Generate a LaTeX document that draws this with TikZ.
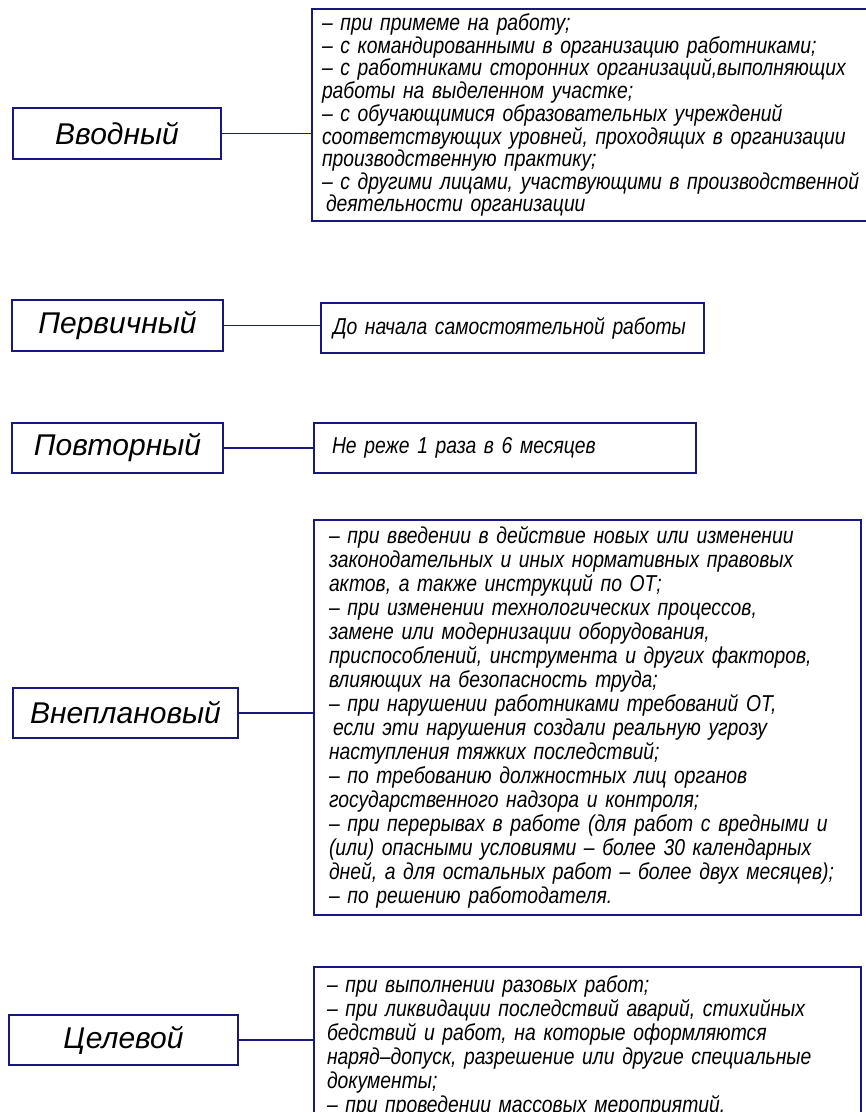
\documentclass[tikz,border=0pt]{standalone}
\usepackage{fontspec}
\setmainfont{Liberation Sans}[FakeStretch=0.84]
\newfontfamily\labelfont{Liberation Sans}
\definecolor{navy}{RGB}{24,24,125}
\begin{document}
\begin{tikzpicture}[x=1pt,y=-1pt,
  lbox/.style={draw=navy, line width=1.7pt, inner sep=0pt, font=\labelfont\fontsize{30}{32}\selectfont\itshape},
  cbox/.style={draw=navy, line width=1.7pt, align=left, inner ysep=0pt, font=\fontsize{23}{24}\selectfont\itshape},
  conn/.style={draw=navy, line width=1.9pt}]
\useasboundingbox (0,0) rectangle (866,1112);
\clip (0,0) rectangle (866,1112);

% left boxes
\node[lbox, minimum width=208, minimum height=51] (vvod) at (117,133.5) {Вводный};
\node[lbox, minimum width=211, minimum height=51] (perv) at (117.5,325.5) {Первичный};
\node[lbox, minimum width=211, minimum height=50] (povt) at (117.5,448) {Повторный};
\node[lbox, minimum width=225, minimum height=50] (vnep) at (125.5,713) {Внеплановый};
\node[lbox, minimum width=229, minimum height=50] (tsel) at (123.5,1040) {Целевой};

% content boxes
\node[cbox, minimum width=600, minimum height=212, text width=580, inner xsep=10,
      font=\fontsize{23}{21.4}\selectfont\itshape] (vvodc) at (612,115) {%
– при примеме на работу;\\
– с командированными в организацию работниками;\\
– с работниками сторонних организаций,выполняющих\\
работы на выделенном участке;\\
– с обучающимися образовательных учреждений\\
соответствующих уровней, проходящих в организации\\
производственную практику;\\
– с другими лицами, участвующими в производственной\\
\hspace*{4pt}деятельности организации};

\node[cbox, minimum width=383, minimum height=50, text width=359, inner xsep=12] (pervc) at (512.5,328) {До начала самостоятельной работы};

\node[cbox, minimum width=382, minimum height=50, text width=346, inner xsep=18] (povtc) at (505,448) {Не реже 1 раза в 6 месяцев};

\node[cbox, minimum width=547, minimum height=395, text width=517, inner xsep=15] (vnepc) at (587.5,717.5) {%
– при введении в действие новых или изменении\\
законодательных и иных нормативных правовых\\
актов, а также инструкций по ОТ;\\
– при изменении технологических процессов,\\
замене или модернизации оборудования,\\
приспособлений, инструмента и других факторов,\\
влияющих на безопасность труда;\\
– при нарушении работниками требований ОТ,\\
\hspace*{4pt}если эти нарушения создали реальную угрозу\\
наступления тяжких последствий;\\
– по требованию должностных лиц органов\\
государственного надзора и контроля;\\
– при перерывах в работе (для работ с вредными и\\
(или) опасными условиями – более 30 календарных\\
дней, а для остальных работ – более двух месяцев);\\
– по решению работодателя.};

\node[cbox, minimum width=547, minimum height=158, text width=521, inner xsep=13] (tselc) at (587.5,1046) {%
– при выполнении разовых работ;\\
– при ликвидации последствий аварий, стихийных\\
бедствий и работ, на которые оформляются\\
наряд–допуск, разрешение или другие специальные\\
документы;\\
– при проведении массовых мероприятий.};

% connectors
\draw[conn] (vvod.east) -- (vvod.east -| vvodc.west);
\draw[conn] (perv.east) -- (perv.east -| pervc.west);
\draw[conn] (povt.east) -- (povt.east -| povtc.west);
\draw[conn] (vnep.east) -- (vnep.east -| vnepc.west);
\draw[conn] (tsel.east) -- (tsel.east -| tselc.west);
\end{tikzpicture}
\end{document}
